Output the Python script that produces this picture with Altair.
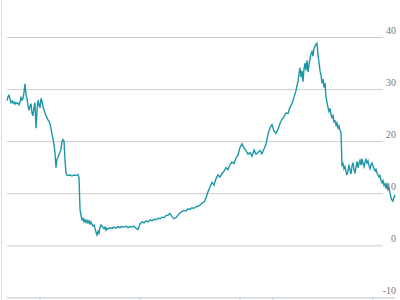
import altair as alt
import pandas as pd

# time index (horizontal position units) and series values
t = [7, 8, 9, 10, 11, 12, 13, 14, 15, 16, 17, 18, 19, 20, 21, 22, 23, 24, 25, 26, 27, 28, 29, 30,
     31, 32, 33, 34, 35, 36, 37, 38, 39, 40, 41, 42, 43, 44, 45, 46, 47, 48, 49, 50, 51, 52, 53,
     54, 55, 56, 57, 58, 59, 60, 61, 62, 63, 64, 65, 66, 67, 68, 70, 72, 74, 76, 78, 79, 80, 81,
     82, 83, 84, 85, 86, 87, 88, 89, 90, 91, 92, 93, 94, 95, 96, 97, 98, 99, 100, 101, 102, 103,
     104, 105, 106, 107, 108, 110, 112, 114, 116, 118, 120, 122, 124, 126, 128, 130, 132, 134,
     136, 138, 139, 140, 142, 144, 146, 148, 150, 152, 154, 156, 158, 160, 162, 164, 166, 168,
     170, 172, 174, 176, 178, 180, 182, 184, 186, 188, 190, 192, 194, 196, 198, 200, 202, 204,
     206, 208, 210, 212, 214, 216, 218, 220, 222, 224, 226, 228, 230, 232, 234, 236, 238, 240,
     242, 244, 246, 248, 250, 252, 254, 256, 258, 260, 262, 264, 266, 268, 270, 272, 274, 276,
     278, 280, 282, 284, 286, 288, 290, 292, 294, 296, 298, 299, 300, 301, 302, 303, 304, 305,
     306, 307, 308, 309, 310, 311, 312, 313, 314, 315, 316, 317, 318, 319, 320, 321, 322, 323,
     324, 325, 326, 327, 328, 329, 330, 331, 332, 333, 334, 335, 336, 337, 338, 339, 340, 341,
     342, 343, 344, 345, 346, 347, 348, 349, 350, 351, 352, 353, 354, 355, 356, 357, 358, 359,
     360, 361, 362, 363, 364, 365, 366, 367, 368, 369, 370, 371, 372, 373, 374, 375, 376, 377,
     378, 379, 380, 381, 382, 383, 384, 385, 386, 387, 388, 389, 390, 391, 392, 393, 394, 395]

values = [27.9, 28.6, 28.9, 28.2, 27.5, 27.8, 27.4, 27.6, 27.2, 27.5, 27.3, 27.4, 27.1, 27.6, 28.5,
          28.0, 28.3, 29.5, 31.1, 29.0, 28.2, 27.0, 26.0, 26.8, 27.3, 25.5, 25.0, 26.6, 27.5, 22.6,
          25.8, 28.0, 27.1, 26.5, 28.3, 27.8, 26.7, 26.1, 25.5, 25.0, 24.6, 24.2, 23.9, 23.4, 22.5,
          21.5, 20.6, 19.4, 17.8, 15.0, 16.6, 17.0, 17.5, 18.0, 18.6, 20.0, 20.4, 20.1, 16.5, 14.0,
          13.6, 13.5, 13.6, 13.4, 13.6, 13.5, 13.7, 13.2, 7.0, 5.8, 5.0, 5.3, 4.6, 5.0, 4.5, 4.9,
          4.4, 4.8, 4.2, 4.6, 4.1, 3.8, 4.0, 3.4, 2.6, 2.1, 2.8, 2.4, 3.6, 4.0, 3.8, 3.5, 3.3, 3.6,
          3.0, 3.4, 3.2, 3.5, 3.3, 3.6, 3.4, 3.7, 3.5, 3.7, 3.6, 3.8, 3.5, 3.7, 3.6, 3.8, 3.4, 3.1,
          3.6, 4.2, 4.6, 4.4, 4.8, 4.6, 5.0, 4.8, 5.1, 5.0, 5.3, 5.2, 5.5, 5.4, 5.8, 5.9, 6.2, 5.6,
          5.2, 5.4, 5.9, 6.3, 6.6, 6.8, 6.7, 7.1, 7.0, 7.3, 7.2, 7.5, 7.6, 7.8, 8.2, 8.4, 9.2, 10.4,
          11.3, 12.2, 11.7, 12.9, 13.6, 13.2, 13.9, 14.3, 15.0, 14.6, 15.6, 16.1, 15.8, 16.9, 17.4,
          18.9, 19.6, 18.8, 18.3, 17.6, 17.9, 17.2, 18.4, 17.6, 17.9, 18.3, 17.7, 18.6, 19.5, 21.5,
          22.6, 23.3, 22.0, 21.6, 22.4, 23.5, 24.3, 24.8, 25.5, 25.4, 26.6, 27.3, 28.5, 29.8, 31.6,
          33.0, 34.2, 32.4, 33.6, 31.5, 34.0, 35.1, 33.7, 35.6, 33.4, 34.8, 35.9, 36.9, 37.3, 36.4,
          37.9, 38.3, 38.7, 38.9, 36.6, 35.2, 33.6, 32.8, 31.2, 32.0, 30.4, 31.3, 28.6, 27.5, 26.6,
          25.8, 26.4, 25.2, 24.6, 25.0, 23.8, 24.0, 23.2, 23.6, 22.6, 23.0, 22.2, 21.8, 15.5, 15.8,
          14.8, 15.2, 14.3, 13.6, 14.4, 15.6, 14.5, 13.8, 15.3, 16.0, 14.6, 13.9, 15.1, 16.2, 15.0,
          15.8, 16.4, 15.5, 16.7, 15.8, 15.2, 16.1, 16.6, 15.9, 16.3, 15.4, 14.8, 15.6, 15.9, 15.3,
          14.9, 14.4, 14.7, 14.0, 13.6, 13.2, 13.5, 12.6, 12.1, 12.5, 11.6, 11.9, 11.0, 12.0, 10.8,
          11.2, 10.2, 9.2, 8.8, 8.6, 9.3, 9.8]

grid_values = [40, 30, 20, 10, 0]
label_values = [40, 30, 20, 10, 0, -10]
label_texts = ["40", "30", "20", "10", "0", "-10"]
x_ticks = [40, 140, 240, 273, 373]

series = pd.DataFrame({"t": t, "v": values})
grid = pd.DataFrame({"v": grid_values})
labels = pd.DataFrame({"v": label_values, "txt": label_texts})
ticks = pd.DataFrame({"t": x_ticks})
base_line = pd.DataFrame({"v": [-10]})

xs = alt.Scale(domain=[0, 400])
ys = alt.Scale(domain=[-10.4, 47.2])

left_edge = alt.Chart(base_line).mark_rule(color="#dddddd", strokeWidth=1).encode(
    x=alt.value(1.5), y=alt.value(0), y2=alt.value(300))

gridlines = alt.Chart(grid).mark_rule(color="#cccccc", strokeWidth=1).encode(
    x=alt.value(7), x2=alt.value(383),
    y=alt.Y("v:Q", scale=ys, axis=None))

bottom = alt.Chart(base_line).mark_rule(color="#c4d0d8", strokeWidth=1.2).encode(
    x=alt.value(7), x2=alt.value(395),
    y=alt.Y("v:Q", scale=ys, axis=None))

tickmarks = alt.Chart(ticks).mark_rule(color="#c4d0d8", strokeWidth=1).encode(
    x=alt.X("t:Q", scale=xs, axis=None),
    y=alt.value(297), y2=alt.value(300))

line = alt.Chart(series).mark_line(color="#1d97a8", strokeWidth=1.4).encode(
    x=alt.X("t:Q", scale=xs, axis=None),
    y=alt.Y("v:Q", scale=ys, axis=None))

text = alt.Chart(labels).mark_text(
    align="right", baseline="bottom", dy=-2, font="Liberation Serif",
    fontSize=10, color="#777777").encode(
    x=alt.value(396),
    y=alt.Y("v:Q", scale=ys, axis=None),
    text="txt:N")

chart = alt.layer(left_edge, gridlines, bottom, tickmarks, line, text).properties(
    width=400, height=300,
    autosize=alt.AutoSizeParams(type="none"),
    padding=0,
).configure_view(stroke=None)

chart.save("out.html", embed_options={"renderer": "svg", "actions": False})
